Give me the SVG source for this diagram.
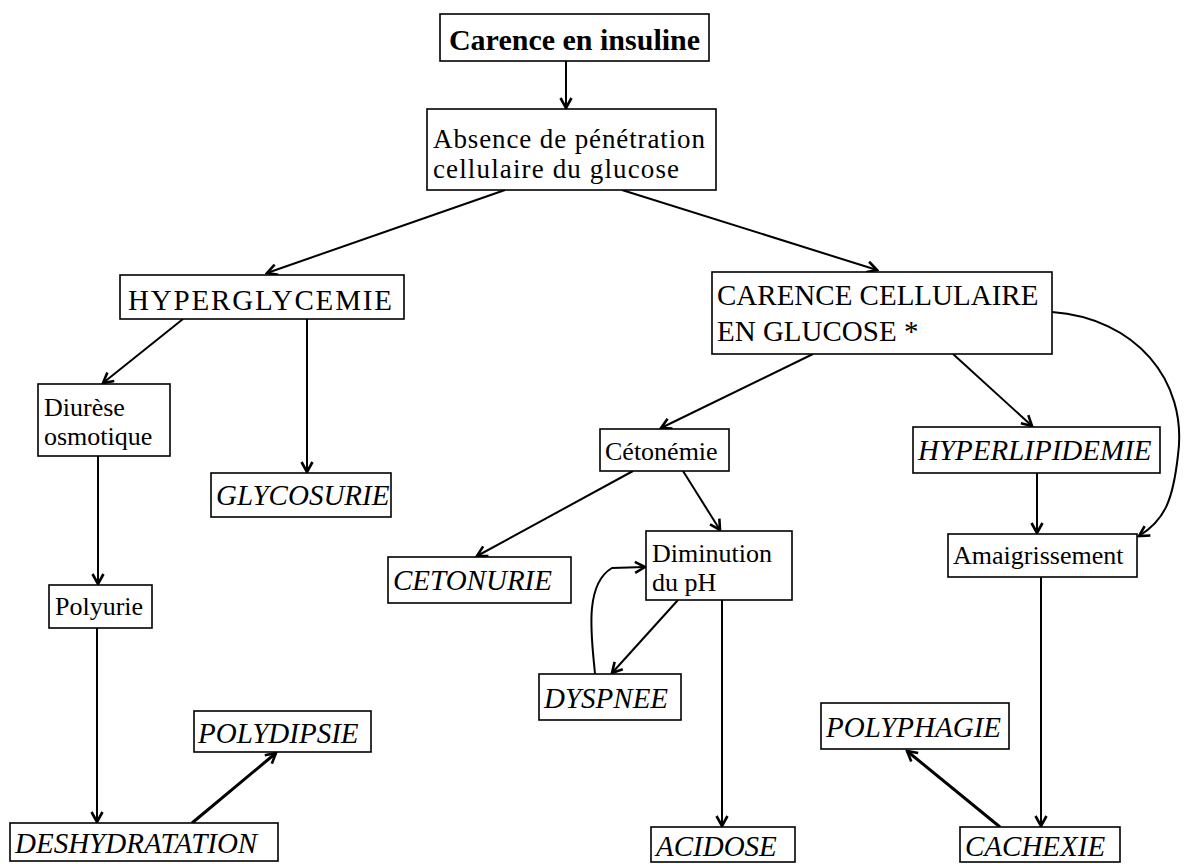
<svg xmlns="http://www.w3.org/2000/svg" width="1184" height="864" viewBox="0 0 1184 864">
<defs>
<marker id="ah" markerUnits="userSpaceOnUse" markerWidth="14" markerHeight="14" refX="12" refY="7" orient="auto">
<path d="M2,1.5 L12,7 L2,12.5" fill="none" stroke="#000" stroke-width="2.6" stroke-linejoin="miter"/>
</marker>
</defs>
<style>
rect{fill:#fff;stroke:#000;stroke-width:1.6}
text{font-family:"Liberation Serif","Times New Roman",serif;fill:#000}
.b{font-weight:bold;font-size:30px}
.l{font-size:29px}
.m{font-size:26px}
.i{font-style:italic;font-size:29px}
#conn path,#conn line{stroke:#000;stroke-width:2;fill:none;marker-end:url(#ah)}
#conn .t{stroke-width:3}
</style>
<g id="conn">
<line x1="566" y1="61" x2="566" y2="108"/>
<line x1="505" y1="190" x2="267" y2="273"/>
<line x1="622" y1="190" x2="877" y2="270"/>
<line x1="183" y1="319" x2="103" y2="383"/>
<line x1="307" y1="319" x2="307" y2="472"/>
<line x1="98" y1="456" x2="98" y2="584"/>
<line x1="97" y1="628" x2="97" y2="822"/>
<line class="t" x1="192" y1="823" x2="276" y2="753"/>
<line x1="813" y1="354" x2="661" y2="428"/>
<line x1="953" y1="354" x2="1032" y2="426"/>
<path d="M1052,312 C1135,318 1188,380 1178,455 C1173,500 1165,520 1139,536"/>
<line x1="1037" y1="473" x2="1037" y2="533"/>
<line x1="633" y1="471" x2="477" y2="556"/>
<line x1="683" y1="471" x2="720" y2="530"/>
<line x1="678" y1="600" x2="612" y2="673"/>
<path d="M595,674 C592,640 583,585 612,568 L645,567"/>
<line x1="722" y1="600" x2="722" y2="826"/>
<line x1="1041" y1="577" x2="1041" y2="826"/>
<line class="t" x1="1000" y1="827" x2="907" y2="751"/>
</g>
<g id="n1"><rect x="440" y="14" width="269" height="47"/><text class="b" x="574.5" y="50" text-anchor="middle">Carence en insuline</text></g>
<g id="n2"><rect x="427" y="109" width="289" height="81"/><text x="433" y="148" font-size="27" textLength="272">Absence de pénétration</text><text x="433" y="178" font-size="27" textLength="246">cellulaire du glucose</text></g>
<g id="n3"><rect x="120" y="275" width="284" height="44"/><text class="l" x="128" y="310" font-size="30" textLength="264">HYPERGLYCEMIE</text></g>
<g id="n4"><rect x="712" y="272" width="340" height="82"/><text class="l" x="717" y="305">CARENCE CELLULAIRE</text><text class="l" x="717" y="341">EN GLUCOSE *</text></g>
<g id="n5"><rect x="38" y="384" width="132" height="72"/><text class="m" x="44" y="416">Diurèse</text><text class="m" x="44" y="445">osmotique</text></g>
<g id="n6"><rect x="211" y="473" width="180" height="44"/><text class="i" x="216" y="505">GLYCOSURIE</text></g>
<g id="n7"><rect x="600" y="429" width="129" height="42"/><text class="m" x="605" y="460">Cétonémie</text></g>
<g id="n8"><rect x="913" y="427" width="247" height="46"/><text class="i" x="918" y="460">HYPERLIPIDEMIE</text></g>
<g id="n9"><rect x="49" y="585" width="103" height="43"/><text class="m" x="55" y="615">Polyurie</text></g>
<g id="n10"><rect x="388" y="557" width="183" height="46"/><text class="i" x="393" y="590">CETONURIE</text></g>
<g id="n11"><rect x="646" y="531" width="146" height="69"/><text class="m" x="652" y="562">Diminution</text><text class="m" x="652" y="591">du pH</text></g>
<g id="n12"><rect x="948" y="534" width="189" height="43"/><text class="m" x="953" y="564">Amaigrissement</text></g>
<g id="n13"><rect x="539" y="674" width="142" height="46"/><text class="i" x="544" y="708" font-size="28">DYSPNEE</text></g>
<g id="n14"><rect x="194" y="711" width="177" height="41"/><text class="i" x="198" y="743">POLYDIPSIE</text></g>
<g id="n15"><rect x="821" y="703" width="188" height="46"/><text class="i" x="826" y="737">POLYPHAGIE</text></g>
<g id="n16"><rect x="10" y="823" width="268" height="38"/><text class="i" x="15" y="853">DESHYDRATATION</text></g>
<g id="n17"><rect x="651" y="827" width="144" height="35"/><text class="i" x="656" y="856">ACIDOSE</text></g>
<g id="n18"><rect x="960" y="827" width="160" height="35"/><text class="i" x="965" y="856">CACHEXIE</text></g>
</svg>
